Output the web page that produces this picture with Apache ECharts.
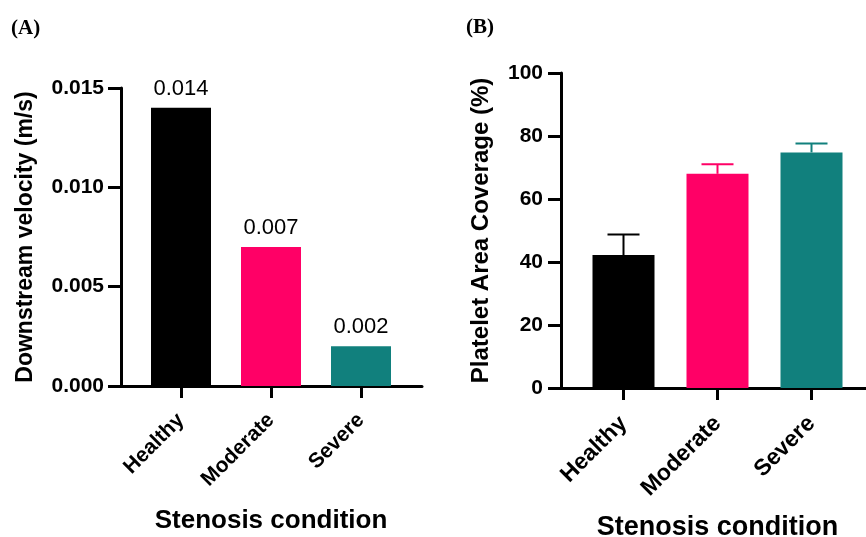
<!DOCTYPE html>
<html>
<head>
<meta charset="utf-8">
<script src="https://cdn.jsdelivr.net/npm/echarts@6/dist/echarts.min.js"></script>
<style>
  html, body { margin: 0; padding: 0; background: #fff; }
  #main { width: 866px; height: 537px; }
</style>
</head>
<body>
<div id="main"></div>
<script>
// 数据
const categories = ['Healthy', 'Moderate', 'Severe'];
const velocity = [0.014, 0.007, 0.002];          // (A) m/s
const coverage = [42.2, 68, 74.8];               // (B) %
const coverageErr = [6.5, 3, 2.8];               // (B) 上误差
const velocityTicks = [0, 0.005, 0.010, 0.015];
const coverageTicks = [0, 20, 40, 60, 80, 100];
const barColors = ['#000000', '#FF0066', '#11807D'];

const FONT = "'Liberation Sans', Arial, sans-serif";
const SERIF = "'Liberation Serif', 'Times New Roman', serif";

const chart = echarts.init(document.getElementById('main'));

// 画误差线（只画上半部分）
function errorBar(params, api) {
    const idx = api.value(0);
    const val = api.value(1);
    const err = api.value(2);
    const base = api.coord([idx, val]);
    const top = api.coord([idx, val + err]);
    const half = 16;
    const style = { stroke: barColors[idx], lineWidth: 2 };
    return {
        type: 'group',
        children: [
            { type: 'line', shape: { x1: base[0], y1: base[1], x2: top[0], y2: top[1] }, style: style },
            { type: 'line', shape: { x1: top[0] - half, y1: top[1], x2: top[0] + half, y2: top[1] }, style: style }
        ]
    };
}

// 只画x轴线（比柱子区域更长）
const lineOnlyX = function (gridIndex) {
    return {
        type: 'value', gridIndex: gridIndex, min: 0, max: 1,
        axisLine: { show: true, onZero: false, lineStyle: { color: '#000', width: 3 } },
        axisTick: { show: false }, axisLabel: { show: false }, splitLine: { show: false }
    };
};

const catX = function (gridIndex, fs, margin, nameFs, nameGap) {
    return {
        type: 'category', gridIndex: gridIndex, data: categories,
        axisLine: { show: false, onZero: false },
        axisTick: { show: true, alignWithLabel: true, length: 12, lineStyle: { color: '#000', width: 3 } },
        axisLabel: { rotate: 45, margin: margin, color: '#000', fontWeight: 'bold', fontSize: fs, fontFamily: FONT },
        name: 'Stenosis condition', nameLocation: 'middle', nameGap: nameGap,
        nameTextStyle: { color: '#000', fontWeight: 'bold', fontSize: nameFs, fontFamily: FONT }
    };
};

const hiddenY = function (gridIndex, max) {
    return { type: 'value', gridIndex: gridIndex, min: 0, max: max, show: false };
};

const option = {
    animation: false,
    backgroundColor: '#fff',
    title: [
        { text: '(A)', left: 6, top: 13, textStyle: { fontFamily: SERIF, fontWeight: 'bold', fontSize: 21, color: '#000' } },
        { text: '(B)', left: 461, top: 12, textStyle: { fontFamily: SERIF, fontWeight: 'bold', fontSize: 21, color: '#000' } }
    ],
    grid: [
        { left: 121, top: 88, width: 301, height: 298, outerBoundsMode: 'none' },
        { left: 136, top: 88, width: 270, height: 298, outerBoundsMode: 'none' },
        { left: 561, top: 73, width: 305, height: 315, outerBoundsMode: 'none' },
        { left: 576.5, top: 73, width: 282, height: 315, outerBoundsMode: 'none' }
    ],
    xAxis: [
        lineOnlyX(0),
        catX(1, 21, 31, 26, 122),
        lineOnlyX(2),
        catX(3, 23, 32, 27, 126)
    ],
    yAxis: [
        {
            type: 'value', gridIndex: 0, min: 0, max: 0.015, interval: 0.005,
            axisLine: { show: true, lineStyle: { color: '#000', width: 3 } },
            axisTick: { show: true, length: 13, lineStyle: { color: '#000', width: 3 } },
            axisLabel: {
                margin: 17, color: '#000', fontWeight: 'bold', fontSize: 21, fontFamily: FONT,
                formatter: function (v) { return velocityTicks.indexOf(+v.toFixed(3)) >= 0 ? v.toFixed(3) : ''; }
            },
            splitLine: { show: false },
            name: 'Downstream velocity (m/s)', nameLocation: 'middle', nameGap: 84,
            nameTextStyle: { color: '#000', fontWeight: 'bold', fontSize: 23, fontFamily: FONT }
        },
        hiddenY(1, 0.015),
        {
            type: 'value', gridIndex: 2, min: 0, max: 100, interval: 20,
            axisLine: { show: true, lineStyle: { color: '#000', width: 3 } },
            axisTick: { show: true, length: 13, lineStyle: { color: '#000', width: 3 } },
            axisLabel: {
                margin: 18, color: '#000', fontWeight: 'bold', fontSize: 21, fontFamily: FONT,
                formatter: function (v) { return coverageTicks.indexOf(v) >= 0 ? String(v) : ''; }
            },
            splitLine: { show: false },
            name: 'Platelet Area Coverage (%)', nameLocation: 'middle', nameGap: 68,
            nameTextStyle: { color: '#000', fontWeight: 'bold', fontSize: 24, fontFamily: FONT }
        },
        hiddenY(3, 100)
    ],
    series: [
        {
            type: 'bar', xAxisIndex: 1, yAxisIndex: 1, barWidth: 60,
            data: velocity.map(function (v, i) { return { value: v, itemStyle: { color: barColors[i] } }; }),
            label: {
                show: true, position: 'top', distance: 8, color: '#000', fontSize: 22, fontFamily: FONT,
                formatter: function (p) { return p.value.toFixed(3); }
            }
        },
        {
            type: 'bar', xAxisIndex: 3, yAxisIndex: 3, barWidth: 62, z: 2,
            data: coverage.map(function (v, i) { return { value: v, itemStyle: { color: barColors[i] } }; })
        },
        {
            type: 'custom', xAxisIndex: 3, yAxisIndex: 3, z: 1,
            renderItem: errorBar,
            data: coverage.map(function (v, i) { return [i, v, coverageErr[i]]; })
        }
    ]
};

chart.setOption(option);
</script>
</body>
</html>
